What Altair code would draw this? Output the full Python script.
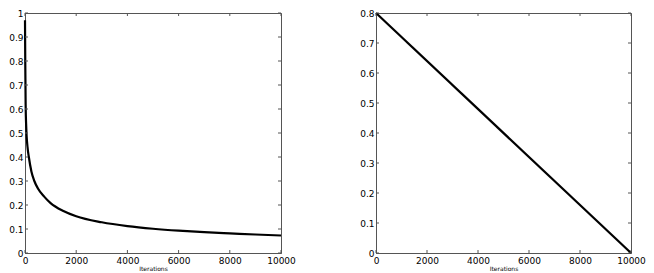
import altair as alt
import pandas as pd

# Left panel: decaying curve
iter_left = [0, 10, 25, 50, 100, 150, 250, 365, 500, 750, 1000, 1500, 2000,
             3000, 4000, 5000, 6000, 7000, 8000, 9000, 10000]
val_left = [0.97, 0.80, 0.62, 0.52, 0.44, 0.40, 0.34, 0.30, 0.27, 0.235, 0.208,
            0.175, 0.153, 0.128, 0.112, 0.101, 0.093, 0.087, 0.082, 0.077, 0.073]

# Right panel: linear decrease
iter_right = [0, 10000]
val_right = [0.8, 0.0]

x_ticks = [0, 2000, 4000, 6000, 8000, 10000]
y_ticks_left = [0, 0.1, 0.2, 0.3, 0.4, 0.5, 0.6, 0.7, 0.8, 0.9, 1.0]
y_ticks_right = [0, 0.1, 0.2, 0.3, 0.4, 0.5, 0.6, 0.7, 0.8]

W, H = 256, 240
FRAME = "#555555"
TL = 3  # inward tick length
FONT = "DejaVu Sans"


def panel(xs, ys, yticks, ymax, w):
    df = pd.DataFrame({"it": xs, "v": ys})
    xs_scale = alt.Scale(domain=[0, 10000], nice=False, zero=False)
    ys_scale = alt.Scale(domain=[0, ymax], nice=False, zero=False)
    xax = alt.Axis(values=x_ticks, format="d", ticks=False, grid=False,
                   labelPadding=3, title="Iterations", titleFontSize=6,
                   titleFontWeight="normal", titlePadding=0, labelFlush=False,
                   labelOverlap=False, titleColor="black")
    yax = alt.Axis(values=yticks, format=".1~f", ticks=False, grid=False,
                   labelPadding=2, title=None, labelFlush=False, labelOverlap=False)
    line = alt.Chart(df).mark_line(color="black", strokeWidth=2.2,
                                   interpolate="monotone").encode(
        x=alt.X("it:Q", scale=xs_scale, axis=xax),
        y=alt.Y("v:Q", scale=ys_scale, axis=yax),
    )
    xt = pd.DataFrame({"t": x_ticks})
    yt = pd.DataFrame({"t": yticks})
    xb = alt.Chart(xt).mark_rule(color=FRAME, strokeWidth=1).encode(
        x=alt.X("t:Q", scale=xs_scale, axis=xax), y=alt.value(H), y2=alt.value(H - TL))
    xtop = alt.Chart(xt).mark_rule(color=FRAME, strokeWidth=1).encode(
        x=alt.X("t:Q", scale=xs_scale, axis=xax), y=alt.value(0), y2=alt.value(TL))
    yl = alt.Chart(yt).mark_rule(color=FRAME, strokeWidth=1).encode(
        y=alt.Y("t:Q", scale=ys_scale, axis=yax), x=alt.value(0), x2=alt.value(TL))
    yr = alt.Chart(yt).mark_rule(color=FRAME, strokeWidth=1).encode(
        y=alt.Y("t:Q", scale=ys_scale, axis=yax), x=alt.value(w), x2=alt.value(w - TL))
    return alt.layer(line, xb, xtop, yl, yr).properties(width=w, height=H)


left = panel(iter_left, val_left, y_ticks_left, 1.0, W)
right = panel(iter_right, val_right, y_ticks_right, 0.8, 255)

chart = alt.hconcat(left, right, spacing=63).properties(padding=0).configure_view(
    stroke=FRAME, strokeWidth=1
).configure_axis(
    domainColor=FRAME, labelFont=FONT, titleFont=FONT, labelFontSize=9,
    labelColor="black", titleColor="black"
)

chart.save("out.html", embed_options={"renderer": "svg", "actions": False})
